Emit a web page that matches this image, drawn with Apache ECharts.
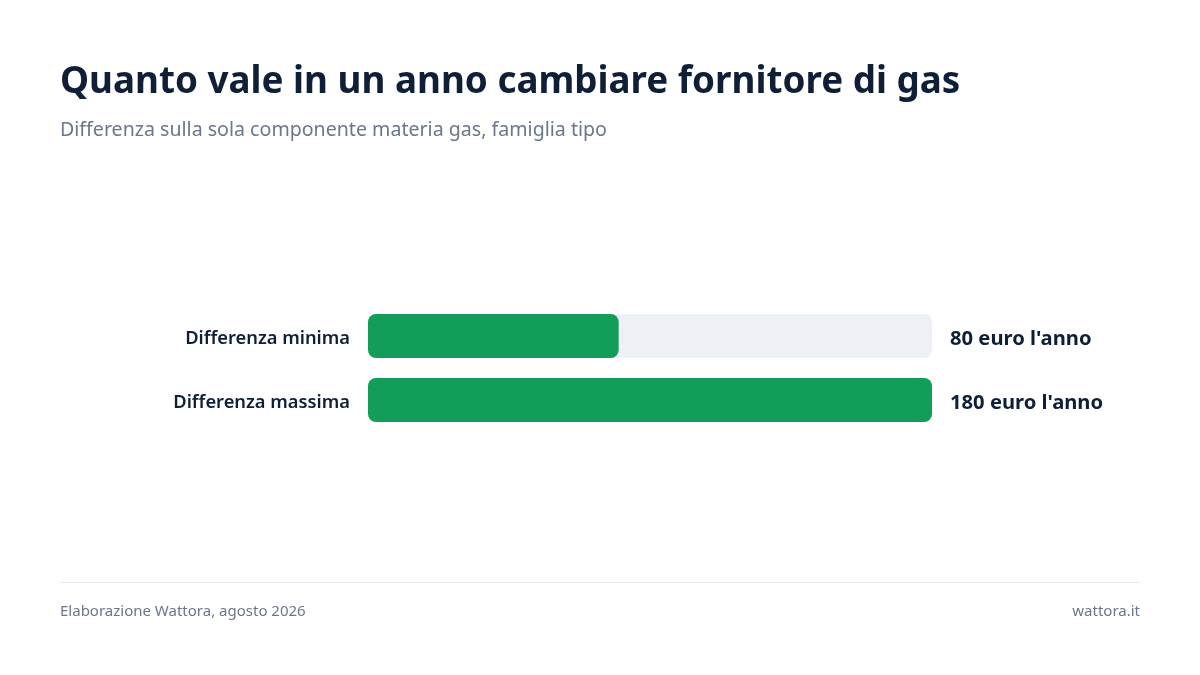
<!DOCTYPE html>
<html>
<head>
<meta charset="utf-8">
<script src="https://cdn.jsdelivr.net/npm/echarts@6/dist/echarts.min.js"></script>
<style>html,body{margin:0;padding:0;background:#fff}#c{width:1200px;height:675px}</style>
</head>
<body>
<div id="c"></div>
<script>
const categories = ["Differenza minima", "Differenza massima"];
const values = [80, 180];
const valueLabels = ["80 euro l'anno", "180 euro l'anno"];
const scaleMax = 180;

const FONT = '"Noto Sans", "Open Sans", sans-serif';
const chart = echarts.init(document.getElementById('c'), null, {renderer: 'canvas'});
chart.setOption({
  backgroundColor: '#ffffff',
  animation: false,
  title: [
    {text: 'Quanto vale in un anno cambiare fornitore di gas', left: 60, top: 64, padding: 0,
     textStyle: {fontFamily: FONT, fontSize: 36.8, fontWeight: 'bold', color: '#0f1f38'}},
    {text: 'Differenza sulla sola componente materia gas, famiglia tipo', left: 60, top: 120, padding: 0,
     textStyle: {fontFamily: FONT, fontSize: 19.6, fontWeight: 'normal', color: '#6b778a'}},
    {text: 'Elaborazione Wattora, agosto 2026', left: 60, top: 604, padding: 0,
     textStyle: {fontFamily: FONT, fontSize: 15, fontWeight: 'normal', color: '#6b778a'}},
    {text: 'wattora.it', right: 60, top: 604, padding: 0,
     textStyle: {fontFamily: FONT, fontSize: 15, fontWeight: 'normal', color: '#6b778a'}}
  ],
  graphic: [
    {type: 'line', shape: {x1: 60, y1: 582.5, x2: 1140, y2: 582.5},
     style: {stroke: '#e6e9ee', lineWidth: 1}}
  ],
  grid: {left: 368, right: 268, top: 304, bottom: 243, containLabel: false},
  xAxis: {type: 'value', min: 0, max: scaleMax, show: false},
  yAxis: {
    type: 'category', data: categories, inverse: true,
    axisLine: {show: false}, axisTick: {show: false}, axisLabel: {show: false}
  },
  series: [
    {
      type: 'bar', barWidth: 44, silent: true,
      data: categories.map(() => scaleMax),
      itemStyle: {color: '#edf0f5', borderRadius: 8},
      label: {show: true, position: 'right', distance: 18, offset: [0, 3],
        formatter: p => valueLabels[p.dataIndex],
        fontFamily: FONT, fontSize: 20.2, fontWeight: 'bold', color: '#0f1f38'},
      z: 1
    },
    {
      type: 'bar', barWidth: 44, barGap: '-100%',
      data: values,
      itemStyle: {color: '#129e58', borderRadius: 8},
      label: {show: true, position: 'left', distance: 18, offset: [0, 3],
        formatter: p => categories[p.dataIndex],
        fontFamily: FONT, fontSize: 18.3, fontWeight: 600, color: '#0f1f38'},
      z: 2
    }
  ]
});
</script>
</body>
</html>
